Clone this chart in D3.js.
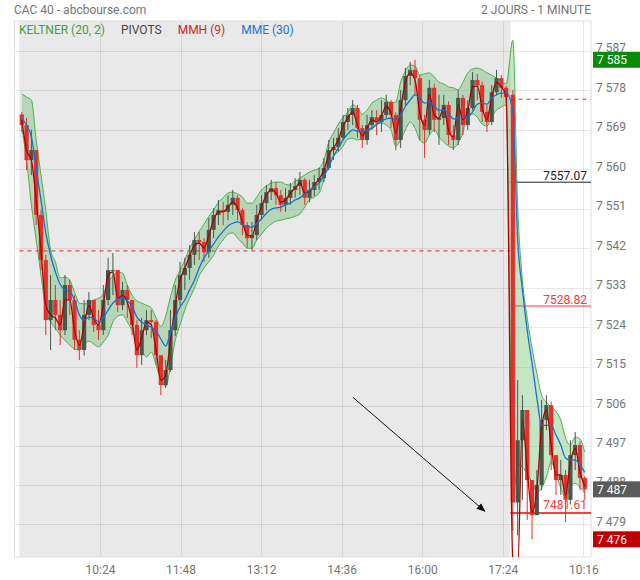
<!DOCTYPE html>
<html><head><meta charset="utf-8">
<script src="https://cdn.jsdelivr.net/npm/d3@7"></script>
<style>body{margin:0;background:#fff;} svg{display:block;font-family:Roboto,"Noto Sans",sans-serif;}</style>
</head><body><svg id="c" width="640" height="580"></svg>
<script>
// ---------- DATA (5-minute aggregated bars) ----------
const title = "CAC 40 - abcbourse.com";
const periodLabel = "2 JOURS - 1 MINUTE";
const legendLabels = ["KELTNER (20, 2)", "PIVOTS", "MMH (9)", "MME (30)"];
const legendColors = ["#43a047", "#444444", "#c62828", "#1976d2"];

const day2StartMinute = 512;
const barMinutes = 5;
const open1 = 7572.5;
const open2 = 7577.0;

const closes1 = [7570.1,7562.1,7564.4,7549.6,7539.3,7525.6,7530.2,7526.8,7523.3,7533.6,
 7530.2,7521.1,7518.8,7526.8,7530.2,7524.5,7523.3,7530.2,7537.0,7537.0,
 7529.0,7532.5,7530.2,7524.5,7517.6,7523.3,7525.6,7525.2,7517.6,7510.8,
 7514.2,7523.3,7530.2,7535.9,7537.5,7540.5,7543.9,7543.4,7541.1,7546.2,
 7549.6,7550.7,7550.3,7551.9,7553.5,7550.7,7547.3,7544.3,7545.0,7549.6,
 7552.3,7554.8,7555.7,7554.1,7551.9,7553.5,7555.3,7556.2,7557.6,7553.5,
 7555.3,7557.1,7558.0,7560.3,7564.4,7565.1,7567.2,7570.8,7572.4,7574.0,
 7569.4,7566.7,7570.1,7571.9,7570.8,7572.4,7575.4,7572.4,7566.7,7575.8,
 7581.3,7582.7,7580.8,7571.3,7569.0,7578.6,7571.3,7571.7,7574.7,7567.8,
 7566.7,7576.3,7570.1,7574.0,7580.4,7579.2,7573.1,7570.8,7577.6,7580.8,
 7578.6,7576.5];
const highs1 = [7573.1,7571.7,7569.0,7564.4,7550.7,7540.5,7535.9,7533.6,7530.2,7535.9,
 7534.8,7531.3,7523.3,7530.2,7532.0,7530.2,7527.9,7533.6,7539.8,7540.9,
 7537.0,7534.3,7533.6,7530.2,7525.6,7526.1,7527.9,7527.9,7525.6,7517.6,
 7516.5,7527.9,7533.6,7538.9,7539.8,7542.7,7545.7,7545.7,7544.3,7548.9,
 7551.2,7553.0,7552.5,7554.1,7555.3,7554.1,7551.2,7548.0,7548.0,7551.9,
 7554.1,7556.4,7557.6,7557.1,7555.3,7555.7,7556.9,7558.0,7559.4,7558.0,
 7557.6,7558.7,7560.3,7562.6,7566.7,7567.2,7569.4,7572.4,7574.0,7575.8,
 7574.7,7570.1,7572.4,7573.5,7573.5,7575.8,7577.0,7575.8,7573.0,7578.1,
 7583.1,7584.5,7585.0,7581.5,7572.4,7580.4,7579.5,7577.0,7577.0,7575.5,
 7570.1,7578.1,7577.0,7575.8,7582.2,7581.8,7580.0,7574.7,7579.2,7582.7,
 7581.5,7579.0];
const lows1 = [7568.5,7559.8,7558.7,7547.3,7537.0,7522.2,7518.8,7523.3,7519.9,7522.2,
 7526.8,7518.8,7516.5,7517.5,7525.6,7522.9,7521.1,7522.2,7529.0,7531.3,
 7527.5,7527.9,7526.1,7522.2,7514.7,7515.4,7522.2,7521.5,7515.4,7508.5,
 7510.1,7513.8,7522.0,7529.0,7532.5,7534.8,7538.2,7539.3,7538.9,7539.8,
 7544.3,7547.3,7547.3,7548.4,7549.6,7548.4,7545.0,7542.1,7541.6,7543.9,
 7548.4,7550.7,7553.0,7551.9,7550.3,7550.3,7551.9,7553.5,7554.1,7551.9,
 7552.5,7553.9,7555.3,7557.1,7559.8,7562.1,7564.0,7566.7,7569.0,7570.1,
 7567.2,7564.9,7565.6,7569.0,7567.8,7568.5,7571.7,7569.4,7564.4,7564.9,
 7574.5,7579.2,7577.0,7566.7,7562.6,7568.0,7568.5,7565.6,7570.1,7565.6,
 7564.4,7565.5,7567.8,7569.0,7573.5,7575.8,7570.8,7568.5,7570.1,7577.0,
 7576.3,7575.1];

const closes2 = [7484.0,7498.2,7505.1,7489.1,7481.1,7488.0,7502.8,7506.2,7494.8,7489.1,7490.3,7484.6,7494.8,7497.1,7489.6,7487.0];
const highs2  = [7578.1,7511.9,7508.5,7505.1,7489.1,7491.4,7507.4,7508.5,7507.0,7494.8,7493.7,7491.4,7498.2,7500.1,7498.0,7490.0];
const lows2   = [7477.5,7476.5,7484.6,7480.0,7475.6,7481.1,7486.8,7500.5,7491.4,7485.7,7485.7,7479.5,7483.5,7491.4,7486.8,7484.6];

// Keltner (20,2) upper / lower, MME (30), MMH (9) read at the same bar positions
const kUpper1 = [7577.2,7576.5,7575.8,7566.7,7558.7,7550.7,7541.6,7538.9,7535.2,7535.4,
 7534.7,7532.0,7529.5,7529.3,7529.7,7530.2,7530.6,7531.5,7534.1,7535.7,
 7536.6,7536.3,7533.6,7531.3,7530.0,7529.5,7529.0,7528.4,7526.1,7524.2,
 7526.5,7530.9,7534.7,7537.0,7539.3,7542.0,7543.9,7545.9,7547.5,7549.3,
 7550.7,7552.5,7553.5,7554.6,7554.8,7554.4,7553.7,7552.3,7552.3,7553.7,
 7555.3,7556.2,7556.9,7557.1,7557.1,7556.6,7556.4,7557.3,7558.0,7558.7,
 7559.4,7559.8,7560.3,7562.1,7566.2,7568.3,7570.3,7571.9,7573.1,7574.7,
 7574.0,7572.6,7573.5,7575.1,7575.8,7576.3,7575.8,7575.1,7575.4,7579.9,
 7582.4,7583.8,7583.6,7581.5,7581.8,7582.0,7581.1,7579.9,7579.5,7578.8,
 7578.6,7578.1,7579.9,7582.0,7582.9,7583.1,7582.7,7582.0,7581.5,7580.8,
 7580.2,7579.5];
const kLower1 = [7569.4,7562.1,7551.9,7543.9,7535.9,7527.9,7525.2,7523.8,7522.2,7521.0,
 7519.9,7519.0,7518.8,7520.1,7520.8,7520.1,7519.5,7520.6,7522.2,7525.2,
 7526.5,7526.8,7525.2,7523.3,7521.0,7518.8,7517.2,7518.3,7515.3,7511.9,
 7510.5,7514.9,7521.0,7524.5,7527.9,7530.6,7532.9,7535.7,7537.5,7538.9,
 7540.4,7542.5,7543.9,7545.2,7545.5,7544.3,7543.2,7542.0,7542.0,7543.9,
 7545.2,7546.6,7547.5,7548.2,7548.4,7548.7,7548.9,7549.3,7549.8,7551.4,
 7553.0,7553.7,7554.6,7557.6,7561.7,7563.0,7564.0,7565.3,7566.9,7567.1,
 7566.7,7567.1,7568.5,7569.2,7570.1,7570.6,7570.1,7569.0,7565.3,7566.7,
 7569.0,7570.8,7569.4,7566.7,7566.0,7567.8,7569.0,7567.4,7566.2,7565.3,
 7564.9,7566.0,7568.5,7572.4,7572.6,7571.9,7570.3,7569.9,7571.9,7573.5,
 7574.2,7574.7];
const mme1 = [7571.7,7570.1,7567.4,7560.3,7553.0,7545.5,7540.4,7536.6,7533.8,7532.5,
 7532.2,7530.2,7526.8,7525.6,7526.3,7526.1,7525.2,7526.1,7527.9,7529.5,
 7530.4,7530.6,7530.0,7528.8,7526.3,7525.2,7524.5,7524.0,7523.1,7521.3,
 7519.7,7522.6,7526.1,7528.6,7530.2,7532.5,7534.7,7537.5,7539.8,7541.4,
 7543.0,7544.6,7545.9,7547.1,7547.7,7548.0,7547.5,7546.8,7546.8,7547.7,
 7548.7,7550.0,7550.9,7551.2,7551.4,7551.9,7552.3,7553.0,7553.5,7554.4,
 7555.3,7556.0,7556.9,7558.5,7560.5,7563.0,7564.9,7566.7,7568.1,7569.0,
 7568.7,7568.5,7569.0,7569.4,7570.3,7571.0,7571.5,7571.7,7571.3,7572.4,
 7574.4,7575.8,7577.0,7576.3,7575.1,7575.4,7574.4,7573.5,7573.5,7572.8,
 7571.5,7571.7,7571.9,7571.9,7573.1,7574.9,7575.1,7574.9,7576.3,7577.0,
 7577.4,7577.4];
const mmh1 = [7571.3,7564.4,7562.1,7553.0,7541.6,7529.0,7526.8,7526.1,7524.5,7530.2,
 7530.2,7523.3,7519.9,7524.5,7529.0,7526.1,7524.5,7529.0,7535.9,7536.6,
 7530.6,7531.3,7529.7,7525.2,7518.8,7521.5,7525.2,7524.5,7518.8,7511.9,
 7513.1,7521.0,7529.0,7534.7,7537.5,7540.2,7542.7,7543.2,7542.0,7545.0,
 7548.4,7550.3,7550.3,7551.4,7552.5,7551.2,7548.0,7545.0,7544.8,7548.4,
 7551.6,7554.1,7555.3,7554.6,7552.5,7553.0,7554.6,7555.7,7556.9,7554.6,
 7555.0,7556.4,7557.8,7559.8,7563.3,7564.9,7566.7,7569.9,7571.7,7573.1,
 7570.1,7567.6,7569.4,7571.3,7570.8,7572.2,7574.4,7572.8,7568.3,7574.0,
 7579.9,7582.0,7580.4,7572.8,7570.1,7577.0,7572.4,7571.7,7574.0,7569.0,
 7567.4,7574.7,7571.3,7573.5,7578.8,7579.0,7574.0,7571.3,7576.5,7579.9,
 7578.8,7576.7];
const kUpper2 = [7589.5,7551.9,7534.7,7526.1,7519.2,7513.5,7508.5,7506.9,7505.8,7504.8,7502.8,7498.7,7497.1,7498.9,7498.5,7495.5];
const kLower2 = [7484.5,7492.5,7492.1,7490.5,7488.6,7486.4,7487.3,7489.8,7493.2,7490.5,7487.3,7485.2,7487.5,7488.4,7487.5,7486.1];
const mme2    = [7573.5,7543.9,7532.5,7523.3,7515.8,7508.0,7501.6,7501.6,7501.6,7499.4,7497.1,7494.1,7493.7,7493.7,7492.5,7490.9];
const mmh2    = [7470.8,7468.6,7502.8,7491.4,7481.8,7486.8,7501.0,7505.1,7497.1,7490.3,7490.3,7485.7,7493.2,7496.4,7490.9,7487.7];

const prevCloses = [7541.4, 7576.0];            // dashed reference lines, day 1 and day 2
const pivotValues = [7557.07, 7528.82, 7481.61];
const pivotColors = ["#222222", "#f03a3a", "#ff3b3b"];
const pivotWidths = [1, 1, 2];
const lastPrice = 7487, sessionHigh = 7585, sessionLow = 7475.6;

const yTicks = [7479,7488,7497,7506,7515,7524,7533,7542,7551,7560,7569,7578,7587];
const xTickMinutes = [84,168,252,336,420,504,588];
const xTickLabels = ["10:24","11:48","13:12","14:36","16:00","17:24","10:16"];
const arrowNote = {m0: 347.7, v0: 7508.0, m1: 485.3, v1: 7482.0};

// ---------- LAYOUT ----------
const plot = {left: 14.5, right: 591, top: 21, bottom: 557};
const x = d3.scaleLinear().domain([0, 596]).range([19.4, 591]);
const y = d3.scaleLinear().domain([7479, 7587]).range([524.4, 51]);
const loc = d3.formatLocale({decimal: ",", thousands: " ", grouping: [3], currency: ["", ""]});
const fmt = loc.format(",.0f");

const bars = [];
closes1.forEach((c, i) => bars.push({m: barMinutes*i + 2.5, o: i ? closes1[i-1] : open1, h: highs1[i], l: lows1[i], c}));
closes2.forEach((c, j) => bars.push({m: day2StartMinute + barMinutes*j + 2.5, o: j ? closes2[j-1] : open2, h: highs2[j], l: lows2[j], c}));
const ind = [];
kUpper1.forEach((u, i) => ind.push({m: barMinutes*i + 2.5, u, lo: kLower1[i], e: mme1[i], h: mmh1[i]}));
kUpper2.forEach((u, j) => ind.push({m: day2StartMinute + barMinutes*j + 2.5, u, lo: kLower2[j], e: mme2[j], h: mmh2[j]}));

const svg = d3.select("#c");
const defs = svg.append("defs");
defs.append("clipPath").attr("id", "clip").append("rect")
  .attr("x", plot.left).attr("y", plot.top).attr("width", plot.right - plot.left).attr("height", plot.bottom - plot.top);
defs.append("marker").attr("id", "ah").attr("viewBox", "0 0 10 10").attr("refX", 9).attr("refY", 5)
  .attr("markerWidth", 9).attr("markerHeight", 9).attr("orient", "auto")
  .append("path").attr("d", "M0,1L10,5L0,9Z").attr("fill", "#111");

// background of previous day
svg.append("rect").attr("x", x(0)).attr("y", plot.top).attr("width", x(day2StartMinute) - x(0))
  .attr("height", plot.bottom - plot.top).attr("fill", "#e9e9e9");

// grid
const grid = svg.append("g").attr("stroke", "rgba(0,0,0,0.09)").attr("shape-rendering", "crispEdges");
grid.selectAll(".h").data(yTicks).join("line").attr("x1", plot.left).attr("x2", plot.right)
  .attr("y1", d => Math.round(y(d)) + 0.5).attr("y2", d => Math.round(y(d)) + 0.5);
grid.selectAll(".v").data(xTickMinutes).join("line").attr("y1", plot.top).attr("y2", plot.bottom)
  .attr("x1", d => Math.round(x(d)) + 0.5).attr("x2", d => Math.round(x(d)) + 0.5);
svg.append("rect").attr("x", plot.left).attr("y", plot.top).attr("width", plot.right - plot.left)
  .attr("height", plot.bottom - plot.top).attr("fill", "none").attr("stroke", "#dedede");

// previous close dashed lines
const spans = [[0, day2StartMinute], [day2StartMinute, 596]];
svg.selectAll(".pc").data(prevCloses).join("line")
  .attr("x1", (d, i) => x(spans[i][0])).attr("x2", (d, i) => x(spans[i][1]))
  .attr("y1", d => y(d)).attr("y2", d => y(d))
  .attr("stroke", "#d32f2f").attr("stroke-dasharray", "4,4").attr("stroke-width", 1);

// pivots
const pv = svg.append("g");
pv.selectAll("line").data(pivotValues).join("line")
  .attr("x1", x(day2StartMinute)).attr("x2", x(596))
  .attr("y1", d => y(d)).attr("y2", d => y(d))
  .attr("stroke", (d, i) => pivotColors[i]).attr("stroke-width", (d, i) => pivotWidths[i]);
pv.selectAll("text").data(pivotValues).join("text")
  .attr("x", x(596) - 4).attr("y", (d, i) => y(d) - 2.5 - (pivotWidths[i] - 1))
  .attr("text-anchor", "end").attr("font-size", 12).attr("fill", (d, i) => pivotColors[i])
  .text(d => d.toFixed(2));

const g = svg.append("g").attr("clip-path", "url(#clip)");
// Keltner band
g.append("path").datum(ind)
  .attr("d", d3.area().x(d => x(d.m)).y0(d => y(d.lo)).y1(d => y(d.u)).curve(d3.curveMonotoneX))
  .attr("fill", "rgba(76,175,80,0.32)");
["u", "lo"].forEach(k => g.append("path").datum(ind)
  .attr("d", d3.line().x(d => x(d.m)).y(d => y(d[k])).curve(d3.curveMonotoneX))
  .attr("fill", "none").attr("stroke", "#4caf50").attr("stroke-width", 1));

// candles
const upC = "#46584a", dnC = "#e2302b";
const cg = g.append("g");
cg.selectAll("line").data(bars).join("line")
  .attr("x1", d => x(d.m)).attr("x2", d => x(d.m)).attr("y1", d => y(d.h)).attr("y2", d => y(d.l))
  .attr("stroke", d => d.c >= d.o ? upC : dnC).attr("stroke-width", 1);
cg.selectAll("rect").data(bars).join("rect")
  .attr("x", d => x(d.m) - 2.1).attr("width", 4.2)
  .attr("y", d => y(Math.max(d.o, d.c))).attr("height", d => Math.max(1, Math.abs(y(d.o) - y(d.c))))
  .attr("fill", d => d.c >= d.o ? upC : dnC);

// MMH and MME
g.append("path").datum(ind).attr("d", d3.line().x(d => x(d.m)).y(d => y(d.h)).curve(d3.curveMonotoneX))
  .attr("fill", "none").attr("stroke", "#b00000").attr("stroke-width", 1.3);
g.append("path").datum(ind).attr("d", d3.line().x(d => x(d.m)).y(d => y(d.e)).curve(d3.curveMonotoneX))
  .attr("fill", "none").attr("stroke", "#1a6fd0").attr("stroke-width", 1.3);

// arrow annotation
svg.append("line").attr("x1", x(arrowNote.m0)).attr("y1", y(arrowNote.v0))
  .attr("x2", x(arrowNote.m1)).attr("y2", y(arrowNote.v1))
  .attr("stroke", "#111").attr("stroke-width", 1).attr("marker-end", "url(#ah)");

// title + legend
svg.append("text").attr("x", 14).attr("y", 13.5).attr("font-size", 12).attr("fill", "#757575").text(title);
svg.append("text").attr("x", plot.right).attr("y", 13.5).attr("text-anchor", "end").attr("font-size", 12).attr("fill", "#757575").text(periodLabel);
let lx = 19;
legendLabels.forEach((t, i) => {
  const tx = svg.append("text").attr("x", lx).attr("y", 33.5).attr("font-size", 12).attr("fill", legendColors[i]).text(t);
  lx += tx.node().getComputedTextLength() + 16;
});

// axes
const ya = svg.append("g").attr("transform", `translate(${plot.right},0)`)
  .call(d3.axisRight(y).tickValues(yTicks).tickSize(0).tickPadding(5).tickFormat(fmt));
ya.select(".domain").remove();
ya.selectAll("text").attr("dy", "0.08em").attr("font-size", 12).attr("fill", "#757575").attr("font-family", "Roboto");
const xa = svg.append("g").attr("transform", `translate(0,${plot.bottom})`)
  .call(d3.axisBottom(x).tickValues(xTickMinutes).tickSize(0).tickPadding(8.5).tickFormat((d, i) => xTickLabels[i]));
xa.select(".domain").remove();
xa.selectAll("text").attr("font-size", 12).attr("fill", "#757575").attr("font-family", "Roboto");

// price boxes
const boxes = [{v: sessionHigh, c: "#0a8a0a"}, {v: lastPrice, c: "#5b5b5b"}, {v: sessionLow, c: "#c00000"}];
const bg = svg.append("g");
bg.selectAll("rect").data(boxes).join("rect")
  .attr("x", plot.right + 2).attr("width", 640 - plot.right - 2).attr("y", d => y(d.v) - 8).attr("height", 16)
  .attr("fill", d => d.c);
bg.selectAll("text").data(boxes).join("text")
  .attr("x", plot.right + 6).attr("y", d => y(d.v) + 4.5).attr("font-size", 12).attr("fill", "#fff")
  .text(d => fmt(d.v));
</script></body></html>
